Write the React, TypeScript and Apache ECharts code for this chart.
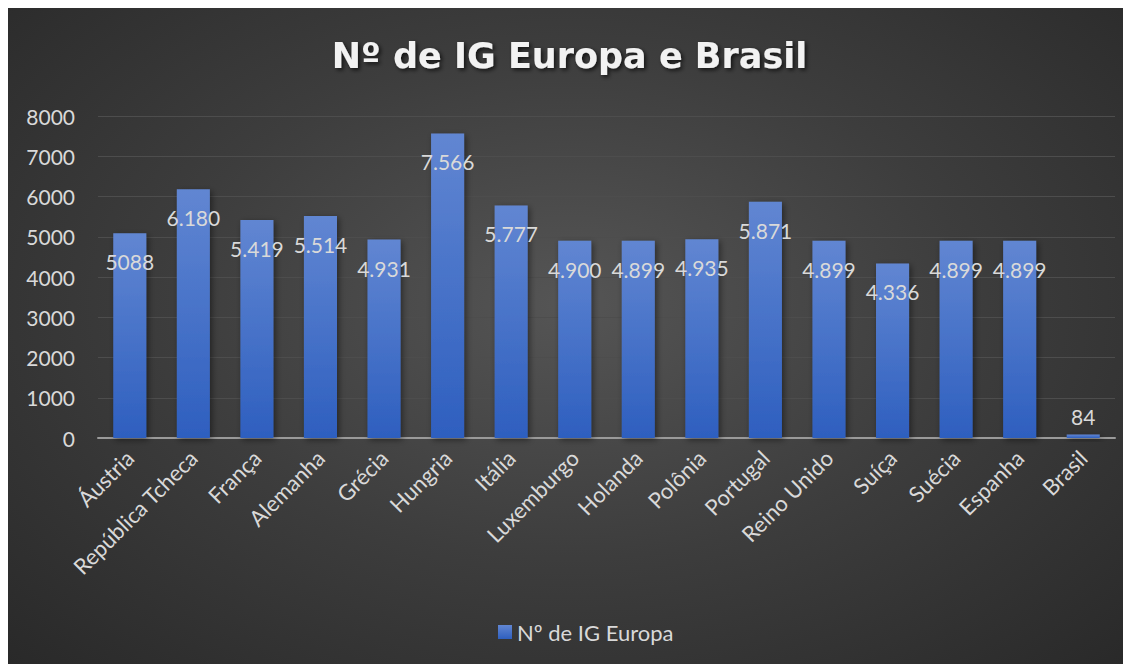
import React, { useEffect, useRef } from "react";
import * as echarts from "echarts";

const categories = [
  "Áustria", "República Tcheca", "França", "Alemanha", "Grécia", "Hungria", "Itália",
  "Luxemburgo", "Holanda", "Polônia", "Portugal", "Reino Unido", "Suíça", "Suécia",
  "Espanha", "Brasil",
];
const values = [5088, 6180, 5419, 5514, 4931, 7566, 5777, 4900, 4899, 4935, 5871, 4899, 4336, 4899, 4899, 84];
const valueLabels = ["5088", "6.180", "5.419", "5.514", "4.931", "7.566", "5.777", "4.900", "4.899", "4.935", "5.871", "4.899", "4.336", "4.899", "4.899", "84"];
const seriesName = "Nº de IG Europa";
const titleText = "Nº de IG Europa e Brasil";
const yTicks = { min: 0, max: 8000, interval: 1000 };

export default function App() {
  const ref = useRef<HTMLDivElement>(null);
  useEffect(() => {
    if (!ref.current) return;
    const chart = echarts.init(ref.current, undefined, { renderer: "svg" });
    const barGrad = new echarts.graphic.LinearGradient(0, 0, 0, 1, [
      { offset: 0, color: "#6186d2" },
      { offset: 1, color: "#2e5fbf" },
    ]);
    chart.setOption({
      animation: false,
      title: {
        text: titleText,
        left: "center",
        top: 25,
        textStyle: {
          fontFamily: "DejaVu Sans",
          fontWeight: "bold",
          fontSize: 35,
          color: "#f2f2f2",
          textShadowColor: "rgba(0,0,0,0.7)",
          textShadowBlur: 4,
          textShadowOffsetX: 2,
          textShadowOffsetY: 2,
        },
      },
      legend: {
        bottom: 16,
        left: 485,
        itemWidth: 14,
        itemHeight: 14,
        itemGap: 4,
        icon: "rect",
        textStyle: { color: "#d9d9d9", fontSize: 22, fontFamily: "Lato" },
        data: [seriesName],
      },
      grid: { left: 90, right: 16, top: 108, bottom: 226, containLabel: false },
      xAxis: {
        type: "category",
        data: categories,
        axisLine: { lineStyle: { color: "#9a9a9a", width: 2 } },
        axisTick: { show: false },
        axisLabel: {
          rotate: 45,
          interval: 0,
          margin: 16,
          color: "#d9d9d9",
          fontSize: 22,
          fontFamily: "Lato",
        },
      },
      yAxis: {
        type: "value",
        min: yTicks.min,
        max: yTicks.max,
        interval: yTicks.interval,
        axisLine: { show: false },
        axisTick: { show: false },
        axisLabel: {
          color: "#d9d9d9",
          fontSize: 21,
          fontFamily: "Lato",
          margin: 23,
          formatter: (v: number) => String(v),
        },
        splitLine: { lineStyle: { color: "#4d4d4d", width: 1.2 } },
      },
      series: [
        {
          name: seriesName,
          type: "bar",
          data: values.map((v) => ({
            value: v,
            label:
              v < 1000
                ? { position: "top", distance: 8 }
                : { position: "insideTop", distance: 18 },
          })),
          barWidth: "52%",
          itemStyle: {
            color: barGrad,
            shadowColor: "rgba(0,0,0,0.45)",
            shadowBlur: 6,
            shadowOffsetX: 2,
            shadowOffsetY: 2,
          },
          label: {
            show: true,
            color: "#d9d9d9",
            fontSize: 21,
            fontFamily: "Lato",
            formatter: (p: any) => valueLabels[p.dataIndex],
          },
        },
      ],
    });
    return () => chart.dispose();
  }, []);
  return (
    <div
      ref={ref}
      style={{
        width: 1123,
        height: 656,
        background: "radial-gradient(ellipse at 50% 45%, #555555 0%, #3d3d3d 50%, #292929 100%)",
      }}
    />
  );
}
